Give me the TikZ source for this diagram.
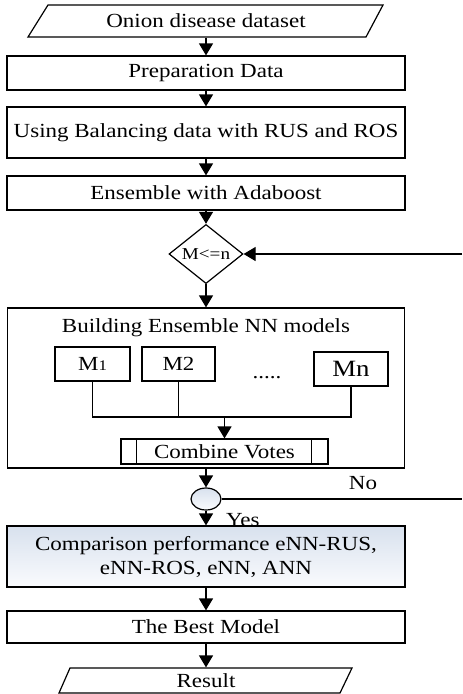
\documentclass[tikz,border=0pt]{standalone}
\usepackage{fontspec}
\setmainfont{Liberation Serif}[FakeStretch=1.15]
\usetikzlibrary{arrows.meta,positioning,shapes.geometric}
\definecolor{ShadeClr}{RGB}{216,225,238}
\definecolor{LowClr}{RGB}{250,251,253}

\begin{document}
\begin{tikzpicture}[x=0.75pt,y=-0.75pt,line width=0.9pt,
  >={Triangle[length=9pt,width=10.5pt]},
  txt/.style={font=\fontsize{15}{18}\selectfont},
  box/.style={txt,draw,minimum width=298.5pt,inner sep=0pt},
  mbox/.style={txt,draw,minimum width=55.5pt,minimum height=25.5pt,inner sep=0pt},
  shade/.style={top color=ShadeClr,bottom color=LowClr}]
\useasboundingbox (0,0) rectangle (462,694);

% Input and output.
\node[txt,minimum height=24pt] (data) at (206,21) {Onion disease dataset};
\draw (28,37) -- (48,5) -- (383,5) -- (366,37) -- cycle;
\node[txt,minimum height=18.75pt] (result) at (206,680.5) {Result};
\draw (59,693) -- (70,668) -- (352,668) -- (340,693) -- cycle;

\node[box,minimum height=25.5pt] (prep) at (206,73) {Preparation Data};
\node[box,minimum height=38.25pt] (balance) at (206,132.5) {Using Balancing data with RUS and ROS};
\node[box,minimum height=25.5pt] (boost) at (206,193) {Ensemble with Adaboost};
\node[draw,diamond,minimum width=55.5pt,minimum height=37.5pt,inner sep=0pt,
  font=\fontsize{12.5}{14}\selectfont] (check) at (206,254) {M<=n};

% Ensemble block.
\node[box,minimum width=297.75pt,minimum height=120pt] (ensemble) at (206,388) {};
\node[txt] (title) at (206,328) {Building Ensemble NN models};
\node[mbox,minimum width=56.25pt] (m1) at (92.5,364) {M{\fontsize{11}{12}\selectfont 1}};
\node[mbox,minimum width=54.75pt] (m2) at (178.5,364) {M2};
\node[mbox] (mn) at (351,369) {\fontsize{17.5}{20}\selectfont Mn};
\node[txt] (dots) at (267,378) {.....};
\node[mbox,minimum width=155.25pt,minimum height=18.75pt] (votes) at (224.5,451.5) {Combine Votes};
\draw ([xshift=12pt]votes.north west) -- ([xshift=12pt]votes.south west)
      ([xshift=-12.75pt]votes.north east) -- ([xshift=-12.75pt]votes.south east);
\coordinate (join) at (0,417);
\draw (m1.south) -- (m1.south |- join) -| (mn.south);
\draw (m2.south) -- (m2.south |- join);
\draw[->] (votes.north |- join) -- (votes.north);

\node[draw,ellipse,shade,minimum width=22.5pt,minimum height=16.5pt,inner sep=0pt]
  (decide) at (206,499) {};
\node[box,shade,minimum height=45.75pt,align=center]
  (compare) at (206,556.5) {Comparison performance eNN-RUS,\\eNN-ROS, eNN, ANN};
\node[box,minimum height=24pt] (best) at (206,627) {The Best Model};

% Main flow.
\foreach \a/\b in {data/prep,prep/balance,balance/boost,boost/check,check/ensemble,
  ensemble/decide,decide/compare,compare/best,best/result}
  \draw[->] (\a.south) -- (\b.north);

% Loop back.
\coordinate (noend) at (462,499);
\coordinate (loopin) at (462,254);
\draw (decide.east) -- (noend);
\draw[->] (loopin) -- (check.east);
\node[txt] (no) at (363,483) {No};
\node[txt,anchor=west] (yes) at (221,520) {Yes};
\end{tikzpicture}
\end{document}
